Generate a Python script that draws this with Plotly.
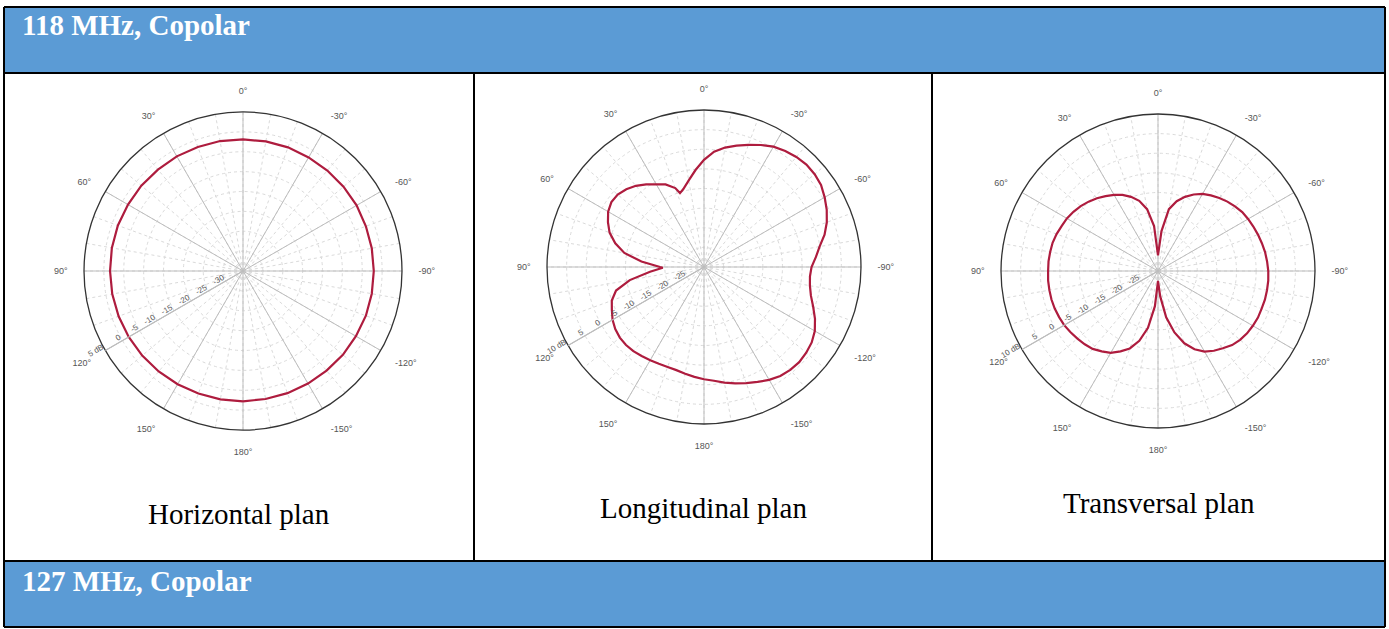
import plotly.graph_objects as go

W, H = 1389, 629

# ---------------- data ----------------
header_top = "118 MHz, Copolar"
header_bottom = "127 MHz, Copolar"
captions = ["Horizontal plan", "Longitudinal plan", "Transversal plan"]

angle_tickvals = [0, 30, 60, 90, 120, 150, 180, 210, 240, 270, 300, 330]
angle_ticktext = ["0°", "30°", "60°", "90°", "120°", "150°", "180°",
                  "-150°", "-120°", "-90°", "-60°", "-30°"]

# Horizontal plan (dB vs angle, deg)
theta_h = [-180, -170, -160, -150, -140, -130, -120, -110, -100, -90, -80, -70,
           -60, -50, -40, -30, -20, -10, 0, 10, 20, 30, 40, 50, 60, 70, 80, 90,
           100, 110, 120, 130, 140, 150, 160, 170, 180]
gain_h = [-2.2, -2.3, -2.3, -2.3, -2.3, -2.2, -2.2, -2.1, -2.1, -2.1, -2.1, -2.1,
          -2.0, -2.0, -2.0, -2.0, -1.9, -1.9, -1.9, -1.8, -1.8, -1.7, -1.7, -1.6,
          -1.6, -1.5, -1.5, -1.55, -1.6, -1.7, -1.8, -1.9, -2.0, -2.1, -2.2, -2.2, -2.2]

# Longitudinal plan
theta_l = [-180, -175, -170, -165, -160, -155, -150, -145, -140, -135, -130, -125,
           -120, -115, -110, -105, -100, -95, -90, -85, -80, -75, -70, -65, -60,
           -55, -50, -45, -40, -35, -30, -25, -20, -15, -10, -5, 0, 5, 10, 15, 18,
           20, 25, 30, 35, 40, 45, 50, 55, 60, 65, 70, 75, 80, 85, 90, 91, 95, 100,
           105, 110, 115, 120, 125, 130, 135, 140, 145, 150, 155, 160, 165, 170,
           175, 180]
gain_l = [-1.4, -0.9, -0.1, 0.7, 1.5, 2.3, 3.2, 3.9, 4.2, 4.3, 4.0, 3.5,
          2.6, 1.2, -0.4, -1.8, -2.6, -2.9, -2.6, -1.4, -0.1, 1.8, 3.3, 4.5, 5.5,
          6.4, 6.8, 6.9, 6.6, 6.1, 5.4, 4.3, 3.1, 2.0, 0.9, -0.5, -2.7, -5.2, -7.6,
          -9.5, -10.2, -8.6, -6.8, -5.7, -4.3, -3.0, -2.0, -1.3, -1.2, -1.8, -3.0,
          -4.4, -6.6, -9.4, -14.0, -18.8, -19.5, -16.2, -10.8, -6.8, -5.0, -4.1,
          -3.1, -2.4, -2.0, -1.9, -2.0, -2.3, -2.6, -2.8, -2.9, -2.8, -2.4, -1.9, -1.4]

# Transversal plan
theta_t = [-180, -175, -170, -165, -160, -155, -150, -145, -140, -135, -130, -125,
           -120, -115, -110, -105, -100, -95, -90, -85, -80, -75, -70, -65, -60,
           -55, -50, -45, -40, -35, -30, -25, -20, -15, -10, -5, 0, 5, 10, 15, 20,
           25, 30, 35, 40, 45, 50, 55, 60, 65, 70, 75, 80, 85, 90, 95, 100, 105,
           110, 115, 120, 125, 130, 135, 140, 145, 150, 155, 160, 165, 170, 175, 180]
gain_t = [-27.5, -23.5, -18.0, -13.8, -10.4, -8.0, -6.3, -5.2, -4.3, -3.3, -2.7, -2.3,
          -2.1, -1.9, -1.9, -1.8, -1.8, -1.8, -1.9, -2.1, -2.3, -2.6, -2.9, -3.2, -3.5,
          -3.8, -4.4, -5.0, -5.7, -6.5, -7.3, -8.5, -9.9, -11.6, -14.0, -19.8, -26.0,
          -18.5, -14.0, -11.5, -9.9, -8.6, -7.6, -6.7, -5.8, -5.0, -4.3, -3.7, -3.2,
          -2.9, -2.5, -2.2, -2.1, -2.0, -2.0, -1.9, -1.9, -1.9, -2.0, -2.2, -2.4,
          -2.8, -3.2, -3.6, -4.1, -5.0, -5.9, -7.4, -9.0, -11.6, -15.3, -21.0, -27.5]

radial_range_h = [-35, 5]
radial_ticks_h = [-30, -25, -20, -15, -10, -5, 0, 5]
radial_text_h = ["-30", "-25", "-20", "-15", "-10", "-5", "0", "5 dB"]
radial_range_lt = [-30, 10]
radial_ticks_lt = [-25, -20, -15, -10, -5, 0, 5, 10]
radial_text_lt = ["-25", "-20", "-15", "-10", "-5", "0", "5", "10 dB"]

# ---------------- layout helpers ----------------
def px(x):
    return x / W

def py(y):
    return 1 - y / H

BLUE = "#5B9BD5"
RED = "#AE1C3E"

# polar placement (centre x, centre y, radius) in pixels
placements = [(243, 271, 159), (704, 267, 157), (1158, 271, 157)]
series = [(theta_h, gain_h, radial_range_h, radial_ticks_h, radial_text_h),
          (theta_l, gain_l, radial_range_lt, radial_ticks_lt, radial_text_lt),
          (theta_t, gain_t, radial_range_lt, radial_ticks_lt, radial_text_lt)]

fig = go.Figure()
layout_polars = {}
for i, ((cx, cy, r), (th, g, rr, rt, rtt)) in enumerate(zip(placements, series)):
    base = 2 * i + 1
    top = 2 * i + 2
    dom = dict(x=[px(cx - r), px(cx + r)], y=[py(cy + r), py(cy - r)])
    base_name = "polar" if base == 1 else f"polar{base}"
    top_name = f"polar{top}"
    layout_polars[base_name] = dict(
        domain=dom, bgcolor="white",
        angularaxis=dict(rotation=90, direction="counterclockwise", tickmode="linear",
                         tick0=0, dtick=10, showticklabels=False, ticks="",
                         gridcolor="#dadada", griddash="dot", gridwidth=1, showline=False),
        radialaxis=dict(range=rr, tickmode="linear", tick0=rr[0], dtick=5,
                        showticklabels=False, ticks="", gridcolor="#dadada",
                        griddash="dot", gridwidth=1, showline=False),
    )
    layout_polars[top_name] = dict(
        domain=dom, bgcolor="rgba(0,0,0,0)",
        angularaxis=dict(rotation=90, direction="counterclockwise",
                         tickmode="array", tickvals=angle_tickvals, ticktext=angle_ticktext,
                         gridcolor="#bdbdbd", gridwidth=1, showline=True,
                         linecolor="#333333", linewidth=1.3, ticks="outside",
                         ticklen=14, tickcolor="rgba(0,0,0,0)",
                         tickfont=dict(family="Liberation Sans, Arial", size=9, color="#555")),
        radialaxis=dict(range=rr, tickmode="array", tickvals=rt, ticktext=rtt,
                        angle=210, tickangle=180,
                        showgrid=False, showline=True,
                        linecolor="#bdbdbd", linewidth=1, ticks="",
                        tickfont=dict(family="Liberation Sans, Arial", size=8, color="#555")),
    )
    # empty trace so that the grid-only subplot is created
    fig.add_trace(go.Scatterpolar(r=[], theta=[], mode="lines", subplot=base_name,
                                  showlegend=False, hoverinfo="skip"))
    fig.add_trace(go.Scatterpolar(r=g, theta=th, mode="lines",
                                  line=dict(color=RED, width=2.2),
                                  subplot=top_name, showlegend=False, hoverinfo="skip"))

# table shapes
shapes = []
shapes.append(dict(type="rect", xref="paper", yref="paper", layer="below",
                   x0=px(4), x1=px(1385), y0=py(73), y1=py(7),
                   fillcolor=BLUE, line=dict(width=0)))
shapes.append(dict(type="rect", xref="paper", yref="paper", layer="below",
                   x0=px(4), x1=px(1385), y0=py(627), y1=py(561),
                   fillcolor=BLUE, line=dict(width=0)))
lines = [(4, 7, 1385, 7), (4, 627, 1385, 627), (4, 7, 4, 627), (1385, 7, 1385, 627),
         (4, 73, 1385, 73), (4, 561, 1385, 561), (474, 73, 474, 561), (932, 73, 932, 561)]
for x0, y0, x1, y1 in lines:
    shapes.append(dict(type="line", xref="paper", yref="paper",
                       x0=px(x0), y0=py(y0), x1=px(x1), y1=py(y1),
                       line=dict(color="black", width=2)))

annotations = [
    dict(text=f"<b>{header_top}</b>", x=px(20), y=py(25), xanchor="left", yanchor="middle",
         font=dict(family="Liberation Serif, Times New Roman", size=29, color="white")),
    dict(text=f"<b>{header_bottom}</b>", x=px(20), y=py(581), xanchor="left", yanchor="middle",
         font=dict(family="Liberation Serif, Times New Roman", size=29, color="white")),
]
cap_pos = [(239, 514), (703, 508), (1159, 503)]
for (x, y), t in zip(cap_pos, captions):
    annotations.append(dict(text=t, x=px(x), y=py(y), xanchor="center", yanchor="middle",
                            font=dict(family="Liberation Serif, Times New Roman", size=29,
                                      color="black")))
for a in annotations:
    a.update(xref="paper", yref="paper", showarrow=False)

fig.update_layout(width=W, height=H, margin=dict(l=0, r=0, t=0, b=0),
                  paper_bgcolor="white", plot_bgcolor="white",
                  shapes=shapes, annotations=annotations, showlegend=False,
                  **layout_polars)

fig.write_html("out.html")
